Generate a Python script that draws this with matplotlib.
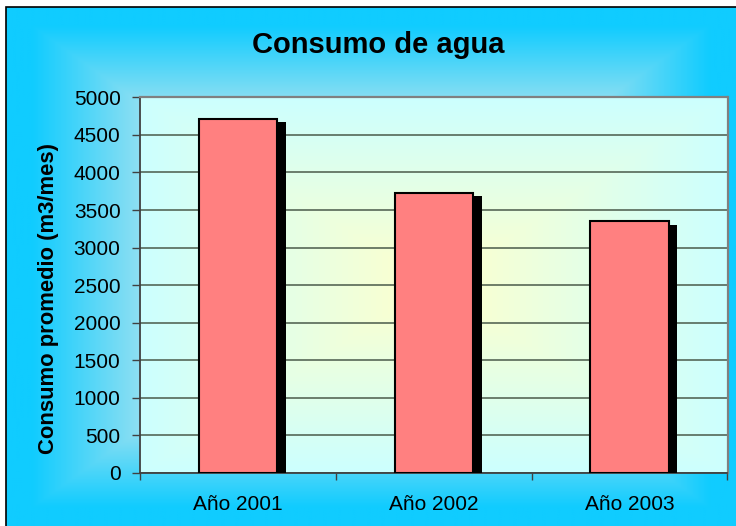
import numpy as np
import matplotlib
matplotlib.use("Agg")
import matplotlib.pyplot as plt
import matplotlib.patheffects as pe
from matplotlib.patches import Rectangle

categories = ["Año 2001", "Año 2002", "Año 2003"]
consumo = [4715, 3730, 3350]
yticks = [0, 500, 1000, 1500, 2000, 2500, 3000, 3500, 4000, 4500, 5000]

plt.rcParams['font.family'] = ['Liberation Sans', 'DejaVu Sans']

W, H = 736, 526
fig = plt.figure(figsize=(W / 100, H / 100), dpi=100)
fig.patch.set_facecolor('white')

# outer background gradient (rectangular, from center)
fx0, fy_top = 6, 7
bg = fig.add_axes([fx0 / W, 0, 1 - fx0 / W, 1 - fy_top / H], zorder=0)
bg.set_axis_off()
nx, ny = 400, 300
xs = np.linspace(-1, 1, nx)
ys = np.linspace(-1, 1, ny)
X, Y = np.meshgrid(xs, ys)
d = np.maximum(np.abs(X), np.abs(Y))
t = np.clip((0.93 - d) / 0.56, 0, 1)
edge = np.array([16, 204, 255]) / 255
center = np.array([255, 240, 230]) / 255
img = edge[None, None, :] * (1 - t[..., None]) + center[None, None, :] * t[..., None]
bg.imshow(img, extent=[0, 1, 0, 1], aspect='auto', interpolation='bilinear')
bg.set_xlim(0, 1)
bg.set_ylim(0, 1)

# frame
fig.add_artist(Rectangle((fx0, -10), W + 10, H - fy_top + 10, transform=None,
                         fill=False, edgecolor='black', linewidth=1.2, zorder=5))

# main axes
L, R, T, B = 140, 727.5, 97.3, 473
ax = fig.add_axes([L / W, (H - B) / H, (R - L) / W, (B - T) / H], zorder=1)
ax.set_xlim(-0.5, len(categories) - 0.5)
ax.set_ylim(0, 5000)

# plot area gradient
px = np.linspace(-1, 1, 400)
py = np.linspace(-1, 1, 300)
PX, PY = np.meshgrid(px, py)
pd_ = np.maximum(np.abs(PX), np.abs(PY))
pt = np.clip(1 - pd_, 0, 1)
pedge = np.array([204, 255, 255]) / 255
pcenter = np.array([255, 255, 204]) / 255
pimg = pedge[None, None, :] * (1 - pt[..., None]) + pcenter[None, None, :] * pt[..., None]
ax.imshow(pimg, extent=[-0.5, len(categories) - 0.5, 0, 5000], aspect='auto',
          interpolation='bilinear', zorder=0)

ax.set_yticks(yticks)
ax.yaxis.grid(True, color='#4a5a4a', linewidth=1.1, zorder=1)
ax.set_axisbelow(True)

xpos = np.arange(len(categories))
bars = ax.bar(xpos, consumo, width=0.40, color='#FF8080', edgecolor='black',
              linewidth=1.5, zorder=3)
for b in bars:
    b.set_path_effects([pe.SimplePatchShadow(offset=(6.2, -2.7), shadow_rgbFace='black',
                                             alpha=1.0), pe.Normal()])

ax.set_xticks(xpos)
ax.set_xticklabels(categories, fontsize=15)
ax.set_xticks(np.arange(-0.5, len(categories), 1.0), minor=True)
ax.tick_params(axis='x', which='major', length=0, pad=16)
ax.tick_params(axis='x', which='minor', length=5, width=1, color='#404040', direction='out')
ax.tick_params(axis='y', which='major', length=6, width=1, color='#404040', direction='out',
               labelsize=15, pad=8)

for s in ['top', 'right']:
    ax.spines[s].set_color('#808080')
    ax.spines[s].set_linewidth(1.6)
for s in ['left', 'bottom']:
    ax.spines[s].set_color('#404040')
    ax.spines[s].set_linewidth(1.3)

ax.set_ylabel('Consumo promedio (m3/mes)', fontsize=15.8, fontweight='bold',
              va='center', ha='center')
ax.yaxis.set_label_coords((49 - L) / (R - L), (B - 298) / (B - T))

fig.text(378 / W, 1 - 45 / H, 'Consumo de agua', fontsize=21, fontweight='bold',
         ha='center', va='center', zorder=6)

fig.savefig('out.png', dpi=100)
